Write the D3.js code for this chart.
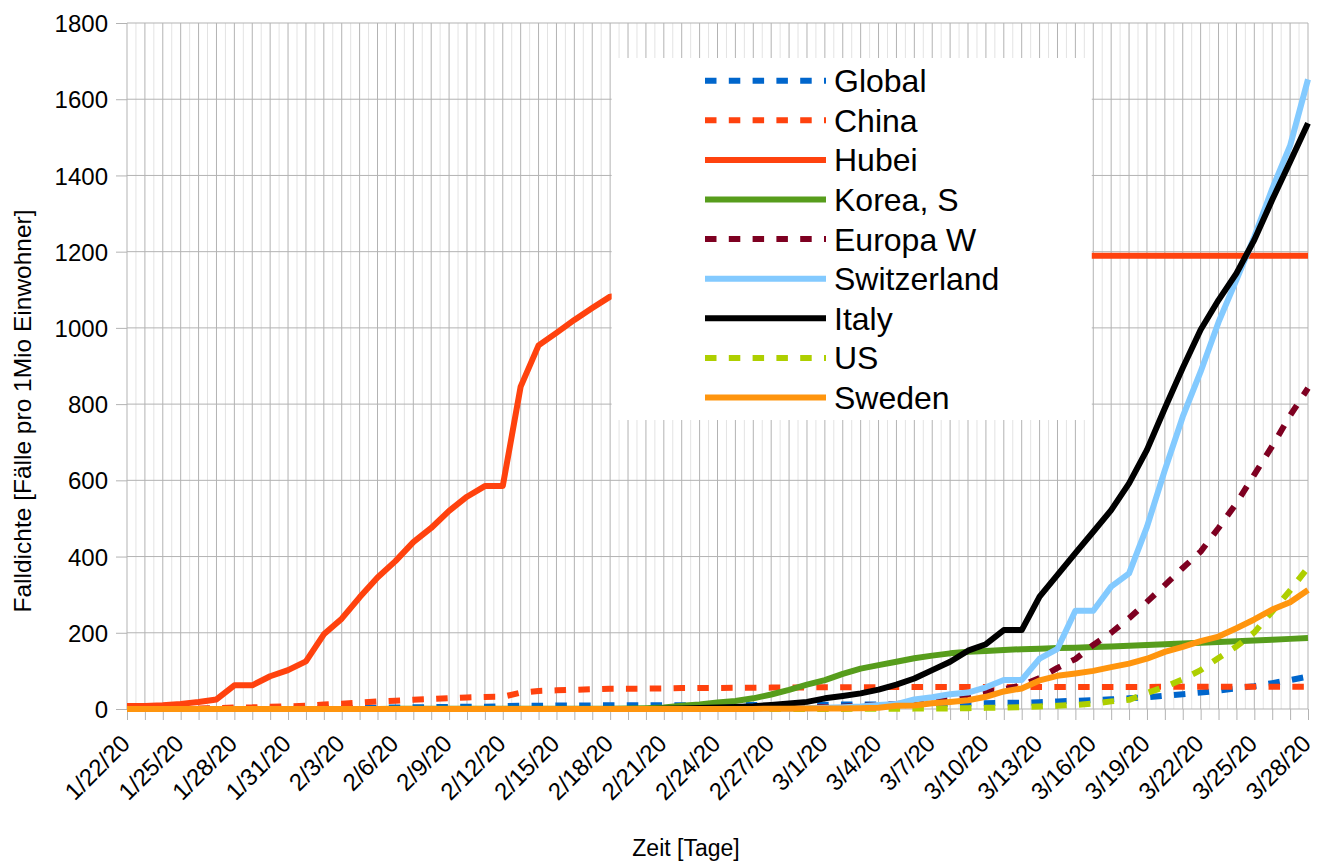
<!DOCTYPE html>
<html>
<head>
<meta charset="utf-8">
<script src="https://cdn.jsdelivr.net/npm/d3@7"></script>
<style>
  body { margin: 0; background: #fff; }
  text { font-family: "Liberation Sans", Arial, sans-serif; }
</style>
</head>
<body>
<div id="chart"></div>
<script>
const margin = {top: 23, right: 9, bottom: 152, left: 127};
const W = 1317, H = 861;
const width = W - margin.left - margin.right;   // 1181
const height = H - margin.top - margin.bottom;  // 686

// categories (one per day)
const dates = ["1/22/20","1/23/20","1/24/20","1/25/20","1/26/20","1/27/20","1/28/20","1/29/20","1/30/20","1/31/20",
  "2/1/20","2/2/20","2/3/20","2/4/20","2/5/20","2/6/20","2/7/20","2/8/20","2/9/20","2/10/20",
  "2/11/20","2/12/20","2/13/20","2/14/20","2/15/20","2/16/20","2/17/20","2/18/20","2/19/20","2/20/20",
  "2/21/20","2/22/20","2/23/20","2/24/20","2/25/20","2/26/20","2/27/20","2/28/20","2/29/20","3/1/20",
  "3/2/20","3/3/20","3/4/20","3/5/20","3/6/20","3/7/20","3/8/20","3/9/20","3/10/20","3/11/20",
  "3/12/20","3/13/20","3/14/20","3/15/20","3/16/20","3/17/20","3/18/20","3/19/20","3/20/20","3/21/20",
  "3/22/20","3/23/20","3/24/20","3/25/20","3/26/20","3/27/20","3/28/20"];

const yTicks = [0, 200, 400, 600, 800, 1000, 1200, 1400, 1600, 1800];

// Falldichte per 1 Mio Einwohner
const global = [0.07,0.08,0.12,0.18,0.28,0.36,0.59,0.79,1.0,1.27,
  1.56,2.0,2.5,3.1,3.5,4.0,4.6,5.1,5.4,5.7,
  5.7,7.6,8.5,8.6,9.1,9.2,9.5,9.6,9.7,9.7,
  9.8,10.0,10.0,10.0,10.3,10.5,10.6,10.8,11.0,11.3,
  11.5,11.8,12.1,12.5,12.9,13.5,14.0,14.5,15.1,16.0,
  16.4,18.0,20.0,21.5,23.0,25.5,28.0,30.5,35,39,
  43,48,54,60,68,76,85];
const china = [0.39,0.46,0.66,1.0,1.48,2.06,3.9,4.3,5.8,7.0,
  8.5,11.9,14.1,16.9,19.6,21.8,24.4,26.3,28.4,30.3,
  31.7,32.0,42.8,47.4,48.9,50.4,51.7,53.0,53.3,53.6,
  54.0,55.0,55.0,55.2,55.5,55.8,56.1,56.4,56.7,57.1,
  57.2,57.3,57.4,57.5,57.6,57.7,57.7,57.8,57.8,57.8,
  57.8,57.8,57.9,57.9,57.9,57.9,58.0,58.0,58.1,58.1,
  58.2,58.3,58.4,58.5,58.5,58.6,58.6];
const hubei = [7.8,7.8,9.6,13.4,18.6,25,62,62,86,102,
  125,196,237,293,345,388,438,475,520,557,
  585,585,846,954,987,1021,1052,1082,1088,1095,
  1099,1124,1124,1128,1137,1144,1151,1156,1164,1174,
  1177,1179,1181,1184,1186,1187,1188,1188,1188,1188,
  1189,1189,1189,1189,1189,1189,1189,1189,1189,1189,
  1189,1189,1189,1189,1189,1189,1189];
const korea = [0.02,0.02,0.04,0.04,0.06,0.08,0.08,0.08,0.08,0.1,
  0.22,0.22,0.29,0.31,0.31,0.37,0.45,0.47,0.47,0.53,
  0.55,0.55,0.55,0.55,0.56,0.56,0.58,0.6,1.0,2.0,
  4.0,8.4,11.7,17,21,28,38,50,64,76,
  92,106,115,124,133,140,146,150,152,155,
  157,158,160,161,163,164,166,168,170,172,
  174,176,178,180,182,184,186];
const europaW = [0,0,0,0,0.01,0.01,0.01,0.01,0.01,0.02,
  0.02,0.02,0.03,0.03,0.03,0.03,0.03,0.04,0.04,0.04,
  0.04,0.04,0.04,0.04,0.05,0.05,0.05,0.05,0.05,0.05,
  0.1,0.2,0.4,0.6,0.9,1.3,1.9,2.8,3.7,5.0,
  6.2,8.0,10,13,16,21,27,36,45,52,
  62,81,108,131,168,200,238,281,325,370,
  413,475,540,615,690,770,842];
const switzerland = [0,0,0,0,0,0,0,0,0,0,
  0,0,0,0,0,0,0,0,0,0,
  0,0,0,0,0,0,0,0,0,0,
  0,0,0,0,0.1,0.1,0.9,1.0,2.1,3.1,
  4.9,6.5,10.5,13,25,31,39,43,57,76,
  76,132,158,258,258,321,356,478,627,767,
  885,1015,1126,1239,1365,1478,1652];
const italy = [0,0,0,0,0,0,0,0,0,0.03,
  0.03,0.03,0.03,0.03,0.03,0.03,0.05,0.05,0.05,0.05,
  0.05,0.05,0.05,0.05,0.05,0.05,0.05,0.05,0.05,0.05,
  0.33,1.0,2.6,3.8,5.3,7.5,10.8,14.7,18.7,28,
  34,41,51,64,80,102,124,153,170,207,
  207,295,352,409,465,522,592,680,789,895,
  995,1073,1143,1231,1336,1436,1537];
const us = [0,0,0.01,0.01,0.02,0.02,0.02,0.02,0.02,0.02,
  0.02,0.02,0.03,0.03,0.03,0.04,0.04,0.04,0.04,0.04,
  0.04,0.04,0.04,0.04,0.04,0.04,0.04,0.04,0.05,0.05,
  0.05,0.05,0.05,0.05,0.05,0.05,0.05,0.05,0.12,0.23,
  0.3,0.38,0.48,0.68,1.0,1.3,1.65,2.15,3.0,4.0,
  5.0,6.7,8.3,10.7,14,20,24,42,58,78,
  102,134,164,201,256,311,371];
const sweden = [0,0,0,0,0,0,0,0,0,0.09,
  0.09,0.09,0.09,0.09,0.09,0.09,0.09,0.09,0.09,0.09,
  0.09,0.09,0.09,0.09,0.09,0.09,0.09,0.09,0.09,0.09,
  0.09,0.09,0.09,0.09,0.09,0.2,0.6,0.6,1.1,1.3,
  1.4,1.9,3.2,8.5,9.2,15,18.5,23,32,46,
  54,75,87,93,100,110,119,132,150,163,
  178,190,212,235,261,280,312];

const seriesNames = ["Global", "China", "Hubei", "Korea, S", "Europa W", "Switzerland", "Italy", "US", "Sweden"];
const seriesValues = [global, china, hubei, korea, europaW, switzerland, italy, us, sweden];
const seriesColors = ["#0066cc", "#ff420e", "#ff420e", "#579d1c", "#7e0021", "#83caff", "#000000", "#aecf00", "#ff950e"];
const seriesDashed = [true, true, false, false, true, false, false, true, false];

const lineWidth = 6;
const dashes = "11.5,12.3";

var xScale = d3.scaleLinear().domain([0, dates.length - 1]).range([0, width]);
var yScale = d3.scaleLinear().domain([0, 1800]).range([height, 0]);

var svg = d3.select("#chart").append("svg")
    .attr("width", W)
    .attr("height", H)
    .append("g")
    .attr("transform", "translate(" + margin.left + "," + margin.top + ")");

function drawGrid() {
    // minor vertical lines (half days)
    svg.append("g").selectAll("line")
        .data(d3.range(dates.length - 1))
        .enter().append("line")
        .attr("x1", d => xScale(d + 0.5)).attr("x2", d => xScale(d + 0.5))
        .attr("y1", 0).attr("y2", height)
        .attr("stroke", "#e3e3e3").attr("stroke-width", 1);

    // major vertical lines (days)
    svg.append("g").selectAll("line")
        .data(d3.range(dates.length))
        .enter().append("line")
        .attr("x1", d => xScale(d)).attr("x2", d => xScale(d))
        .attr("y1", 0).attr("y2", height)
        .attr("stroke", "#b3b3b3").attr("stroke-width", 1);

    // horizontal lines
    svg.append("g").selectAll("line")
        .data(yTicks)
        .enter().append("line")
        .attr("x1", 0).attr("x2", width)
        .attr("y1", d => yScale(d)).attr("y2", d => yScale(d))
        .attr("stroke", "#b3b3b3").attr("stroke-width", 1);
}

function drawAxes() {
    var yAxis = d3.axisLeft(yScale).tickValues(yTicks).tickSize(11).tickPadding(8)
        .tickFormat(d3.format("d"));
    var gy = svg.append("g").attr("class", "y axis").call(yAxis);
    gy.select(".domain").remove();
    gy.selectAll(".tick line").attr("stroke", "#b3b3b3");
    gy.selectAll(".tick text")
        .attr("font-size", 24)
        .attr("font-family", "Liberation Sans, Arial, sans-serif")
        .attr("fill", "#000")
        .attr("dy", "0.36em");

    var xAxis = d3.axisBottom(xScale)
        .tickValues(d3.range(dates.length))
        .tickSize(11)
        .tickFormat(i => i % 3 == 0 ? dates[i] : "");
    var gx = svg.append("g").attr("class", "x axis")
        .attr("transform", "translate(0," + height + ")")
        .call(xAxis);
    gx.select(".domain").remove();
    gx.selectAll(".tick line").attr("stroke", "#b3b3b3");
    gx.selectAll(".tick text")
        .attr("font-size", 24)
        .attr("font-family", "Liberation Sans, Arial, sans-serif")
        .attr("fill", "#000")
        .attr("x", 0).attr("y", 0)
        .attr("dy", "0.35em")
        .style("text-anchor", "end")
        .attr("transform", "translate(-2,30) rotate(-45)");

    // axis titles
    svg.append("text")
        .attr("x", 686 - margin.left)
        .attr("y", 856 - margin.top)
        .attr("text-anchor", "middle")
        .attr("font-size", 23)
        .text("Zeit [Tage]");

    svg.append("text")
        .attr("transform", "translate(" + (31 - margin.left) + "," + (411 - margin.top) + ") rotate(-90)")
        .attr("text-anchor", "middle")
        .attr("font-size", 24.5)
        .text("Falldichte [Fälle pro 1Mio Einwohner]");
}

function drawLines() {
    var line = d3.line()
        .x((d, i) => xScale(i))
        .y(d => yScale(d));

    seriesValues.forEach(function (vals, k) {
        svg.append("path")
            .datum(vals)
            .attr("fill", "none")
            .attr("stroke", seriesColors[k])
            .attr("stroke-width", lineWidth)
            .attr("stroke-linejoin", "round")
            .attr("stroke-dasharray", seriesDashed[k] ? dashes : null)
            .attr("d", line);
    });
}

function drawLegend() {
    var x0 = xScale(27) + 1.5, x1 = xScale(54) - 1.5;
    svg.append("rect")
        .attr("x", x0).attr("y", 58 - margin.top)
        .attr("width", x1 - x0).attr("height", 420 - 58)
        .attr("fill", "#fff");

    var rowY = d => 80.7 + d * 39.6 - margin.top;
    var items = svg.append("g").selectAll("g")
        .data(seriesNames)
        .enter().append("g");

    items.append("line")
        .attr("x1", 705 - margin.left).attr("x2", 826 - margin.left)
        .attr("y1", (d, i) => rowY(i)).attr("y2", (d, i) => rowY(i))
        .attr("stroke", (d, i) => seriesColors[i])
        .attr("stroke-width", lineWidth)
        .attr("stroke-dasharray", (d, i) => seriesDashed[i] ? dashes : null);

    items.append("text")
        .attr("x", 834 - margin.left)
        .attr("y", (d, i) => rowY(i))
        .attr("dy", "0.36em")
        .attr("font-size", 32)
        .text(d => d);
}

drawGrid();
drawAxes();
drawLines();
drawLegend();
</script>
</body>
</html>
